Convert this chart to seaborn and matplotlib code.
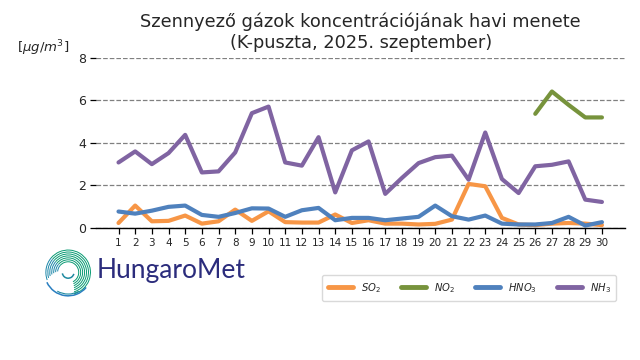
import numpy as np
import pandas as pd
import matplotlib
matplotlib.use("Agg")
import matplotlib.pyplot as plt
import seaborn as sns
from matplotlib.patches import Arc
from matplotlib.lines import Line2D

days = list(range(1, 31))
so2 = [0.23, 1.05, 0.31, 0.33, 0.58, 0.20, 0.31, 0.86, 0.33, 0.78,
       0.27, 0.25, 0.25, 0.63, 0.23, 0.36, 0.20, 0.20, 0.16, 0.19,
       0.39, 2.07, 1.96, 0.47, 0.16, 0.13, 0.20, 0.23, 0.20, 0.13]
no2 = [np.nan] * 25 + [5.37, 6.42, 5.79, 5.20, 5.20]
hno3 = [0.77, 0.67, 0.81, 0.99, 1.05, 0.61, 0.52, 0.70, 0.92, 0.91,
        0.52, 0.83, 0.94, 0.36, 0.47, 0.47, 0.36, 0.44, 0.52, 1.05,
        0.55, 0.39, 0.58, 0.20, 0.16, 0.16, 0.23, 0.52, 0.11, 0.27]
nh3 = [3.08, 3.60, 3.00, 3.52, 4.38, 2.61, 2.66, 3.55, 5.40, 5.71,
       3.08, 2.93, 4.27, 1.67, 3.65, 4.07, 1.60, 2.35, 3.05, 3.33,
       3.40, 2.27, 4.49, 2.30, 1.64, 2.90, 2.97, 3.13, 1.33, 1.22]
series_names = ["SO2", "NO2", "HNO3", "NH3"]
series_labels = ["$SO_2$", "$NO_2$", "$HNO_3$", "$NH_3$"]
colors = ["#F79646", "#77933C", "#4F81BD", "#8064A2"]

sns.set_theme(style="white")
plt.rcParams['font.family'] = ['DejaVu Sans']

frames = []
for name, vals in zip(series_names, [so2, no2, hno3, nh3]):
    frames.append(pd.DataFrame({"day": days, "value": vals, "series": name}))
df = pd.concat(frames).dropna()

fig = plt.figure(figsize=(6.4, 3.6), dpi=100)
ax = fig.add_axes([0.15, 0.367, 0.827, 0.472])
sns.lineplot(data=df, x="day", y="value", hue="series", hue_order=series_names,
             palette=colors, linewidth=3, ax=ax, legend=False, sort=True)

ax.set_xlim(-0.35, 31.4)
ax.set_ylim(0, 8)
ax.set_xticks(days)
ax.set_xticklabels([str(d) for d in days], fontsize=7.5)
ax.set_yticks([0, 2, 4, 6, 8])
ax.set_yticklabels(["0", "2", "4", "6", "8"], fontsize=9)
ax.yaxis.grid(True, linestyle="--", color="#808080", linewidth=0.9)
ax.xaxis.grid(False)
for s in ["top", "right", "left"]:
    ax.spines[s].set_visible(False)
ax.spines["bottom"].set_color("black")
ax.spines["bottom"].set_linewidth(1.0)
ax.tick_params(axis="both", which="both", length=4, width=0.9, color="black",
               direction="out", bottom=True, left=True, pad=3)
ax.set_xlabel("")
ax.set_ylabel("")
ax.set_title("Szennyező gázok koncentrációjának havi menete\n(K-puszta, 2025. szeptember)",
             fontsize=12.8, pad=7)
fig.text(0.067, 0.866, r"[$\mu g/m^3$]", fontsize=9.5, ha="center", va="center")

handles = [Line2D([0], [0], color=c, linewidth=3.5) for c in colors]
fig.legend(handles, series_labels, loc="center", bbox_to_anchor=(0.733, 0.201),
           ncol=4, fontsize=7.2, frameon=True, handlelength=2.5, columnspacing=2.0,
           handletextpad=0.8, borderpad=0.6, edgecolor="#d0d0d0", fancybox=True)

# logo
lax = fig.add_axes([0.068, 0.175, 0.077, 0.137])
lax.set_xlim(-1.05, 1.05)
lax.set_ylim(-1.05, 1.05)
lax.set_aspect("equal")
lax.axis("off")
radii = np.linspace(0.45, 0.95, 7)
for i, r in enumerate(radii):
    t = i / (len(radii) - 1)
    lax.add_patch(Arc((0, 0), 2 * r, 2 * r, theta1=-75 + 12 * (1 - t), theta2=140,
                      color="#079a72", lw=0.7))
    lax.add_patch(Arc((0, 0), 2 * r, 2 * r, theta1=140, theta2=175 + 25 * t,
                      color="#1a86a8", lw=0.7))
lax.add_patch(Arc((0, 0), 2.0, 2.0, theta1=205, theta2=320, color="#2a7fc0", lw=1.1))
lax.add_patch(Arc((0, 0), 1.85, 1.85, theta1=240, theta2=300, color="#1f8aa0", lw=0.8))
lax.add_patch(Arc((0, 0), 0.5, 0.5, theta1=190, theta2=345, color="#1f8aa0", lw=1.1))
fig.text(0.151, 0.248, "HungaroMet", fontsize=19, color="#2B2C7C",
         family=["Lato", "DejaVu Sans"], ha="left", va="center")

fig.savefig("out.png", dpi=100)
